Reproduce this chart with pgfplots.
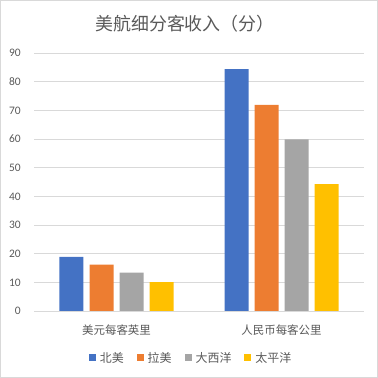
\documentclass[border=0pt]{standalone}
\usepackage{pgfplots}
\pgfplotsset{compat=1.18}
\usepackage{fontspec}
\setmainfont{Carlito}
\newfontfamily\cjk{Noto Sans CJK SC}
\definecolor{txt}{HTML}{595959}
\definecolor{gridc}{HTML}{D9D9D9}
\definecolor{c1}{HTML}{4472C4}
\definecolor{c2}{HTML}{ED7D31}
\definecolor{c3}{HTML}{A5A5A5}
\definecolor{c4}{HTML}{FFC000}
\begin{document}
\begin{tikzpicture}[x=1bp,y=1bp]
\useasboundingbox (0,0) rectangle (378,378);
\draw[color=gridc, line width=0.75bp] (0.5,0.5) rectangle (377.5,377.5);
\node[text=txt, font=\cjk\fontsize{18}{20}\selectfont] at (185,354) {美航细分客收入（分）};
\begin{axis}[
  at={(34bp,67bp)}, anchor=south west, scale only axis,
  width=330bp, height=258bp,
  ymin=0, ymax=90, ytick={0,10,...,90},
  xmin=-0.5, xmax=1.5, xtick={0,1},
  xticklabels={美元每客英里,人民币每客公里},
  ybar=6bp, bar width=24bp,
  axis line style={draw=none},
  major tick length=0pt,
  ymajorgrids, grid style={gridc, line width=0.75bp},
  /pgf/number format/assume math mode=true,
  yticklabel style={font=\fontsize{11.5}{12}\selectfont, text=txt, anchor=east, inner sep=0pt, xshift=-13bp},
  xticklabel style={font=\cjk\fontsize{11.5}{12}\selectfont, text=txt, anchor=center, inner sep=0pt, yshift=-19bp},
  legend style={at={(0.476,-0.182)}, anchor=center, draw=none, fill=none,
    legend columns=4, font=\cjk\fontsize{12}{13}\selectfont, text=txt,
    /tikz/every even column/.append style={column sep=11bp},
    /tikz/every odd column/.append style={column sep=2bp},
    inner sep=0pt},
  legend cell align=left,
]
\addplot[fill=c1, draw=none, legend image code/.code={\fill[c1] (0bp,-3.5bp) rectangle (7bp,3.5bp);}] coordinates {(0,18.9) (1,84.4)};
\addplot[fill=c2, draw=none, legend image code/.code={\fill[c2] (0bp,-3.5bp) rectangle (7bp,3.5bp);}] coordinates {(0,16.2) (1,71.9)};
\addplot[fill=c3, draw=none, legend image code/.code={\fill[c3] (0bp,-3.5bp) rectangle (7bp,3.5bp);}] coordinates {(0,13.4) (1,59.9)};
\addplot[fill=c4, draw=none, legend image code/.code={\fill[c4] (0bp,-3.5bp) rectangle (7bp,3.5bp);}] coordinates {(0,10.1) (1,44.3)};
\legend{北美,拉美,大西洋,太平洋}
\end{axis}
\end{tikzpicture}
\end{document}
